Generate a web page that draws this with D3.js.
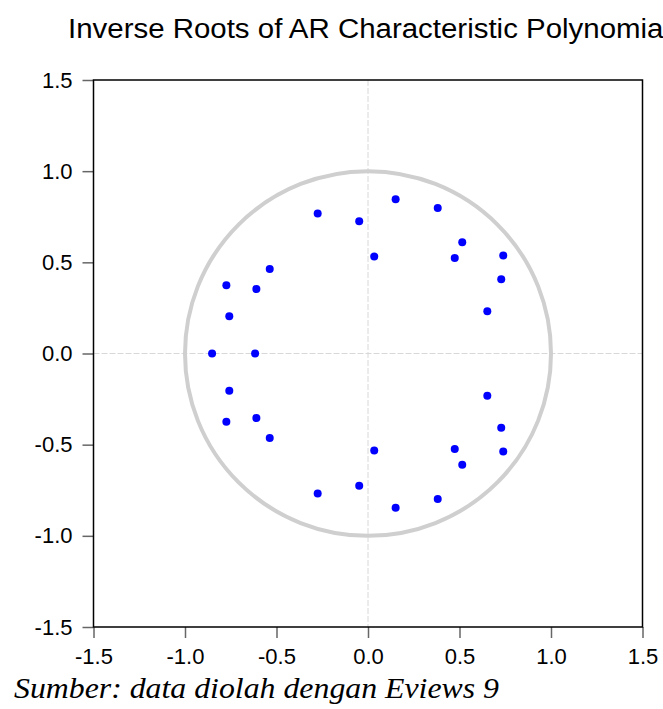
<!DOCTYPE html>
<html>
<head>
<meta charset="utf-8">
<script src="https://cdnjs.cloudflare.com/ajax/libs/d3/7.8.5/d3.min.js"></script>
<style>
  body { margin: 0; background: #fff; }
  svg { display: block; }
  .tick text { font-family: "Liberation Sans", Arial, sans-serif; font-size: 22px; fill: #000; }
  .title { font-family: "Liberation Sans", Arial, sans-serif; font-size: 27px; }
  .source { font-family: "Liberation Serif", "Times New Roman", serif; font-style: italic; font-size: 29px; }
</style>
</head>
<body>
<svg id="chart" width="663" height="709"></svg>
<script>
const rootRe = [0.151, 0.381, -0.275, -0.048, 0.515, 0.739, 0.474, 0.034, -0.537, -0.774, -0.610, 0.728, 0.652, -0.758,
                0.151, 0.381, -0.275, -0.048, 0.515, 0.739, 0.474, 0.034, -0.537, -0.774, -0.610, 0.728, 0.652, -0.758,
                -0.852, -0.617];
const rootIm = [0.846, 0.798, 0.768, 0.726, 0.610, 0.537, 0.524, 0.532, 0.464, 0.374, 0.354, 0.407, 0.232, 0.204,
                -0.846, -0.798, -0.768, -0.726, -0.610, -0.537, -0.524, -0.532, -0.464, -0.374, -0.354, -0.407, -0.232, -0.204,
                0, 0];
const tickVals = [-1.5, -1.0, -0.5, 0.0, 0.5, 1.0, 1.5];

const title = "Inverse Roots of AR Characteristic Polynomial";
const source = "Sumber: data diolah dengan Eviews 9";

const svg = d3.select("#chart");
const pLeft = 93.5, pRight = 642.5, pTop = 80, pBottom = 627;

const x = d3.scaleLinear().domain([-1.5, 1.5]).range([pLeft, pRight]);
const y = d3.scaleLinear().domain([-1.5, 1.5]).range([pBottom, pTop]);

svg.append("rect").attr("width", 663).attr("height", 709).attr("fill", "#fff");

// zero lines
svg.append("line")
  .attr("x1", x(0)).attr("x2", x(0)).attr("y1", pTop).attr("y2", pBottom)
  .attr("stroke", "#d8d8d8").attr("stroke-dasharray", "6,2");
svg.append("line")
  .attr("x1", pLeft).attr("x2", pRight).attr("y1", y(0)).attr("y2", y(0))
  .attr("stroke", "#d8d8d8").attr("stroke-dasharray", "6,2");

// unit circle
svg.append("ellipse")
  .attr("cx", x(0)).attr("cy", y(0))
  .attr("rx", x(1) - x(0)).attr("ry", y(0) - y(1))
  .attr("fill", "none").attr("stroke", "#cfcfcf").attr("stroke-width", 4);

// roots
svg.append("g").selectAll("circle")
  .data(d3.range(rootRe.length))
  .join("circle")
  .attr("cx", i => x(rootRe[i]))
  .attr("cy", i => y(rootIm[i]))
  .attr("r", 4)
  .attr("fill", "#0000ff");

// axes - plain hyphen for negatives, like eviews
const fmt = d => d3.format(".1f")(d).replace("\u2212", "-");
const ax = svg.append("g").attr("transform", `translate(0,${pBottom})`)
  .call(d3.axisBottom(x).tickValues(tickVals).tickFormat(fmt).tickSize(11).tickPadding(10));
const ay = svg.append("g").attr("transform", `translate(${pLeft},0)`)
  .call(d3.axisLeft(y).tickValues(tickVals).tickFormat(fmt).tickSize(11).tickPadding(10));
[ax, ay].forEach(g => {
  g.attr("font-family", null).attr("font-size", null);
  g.select(".domain").remove();
  g.selectAll(".tick line").attr("stroke", "#666").attr("stroke-width", 1.5);
});

// frame
svg.append("rect")
  .attr("x", pLeft).attr("y", pTop)
  .attr("width", pRight - pLeft).attr("height", pBottom - pTop)
  .attr("fill", "none").attr("stroke", "#000").attr("stroke-width", 1.5);

// title (cut at the right edge like the original)
svg.append("text")
  .attr("class", "title")
  .attr("x", 68).attr("y", 38)
  .attr("textLength", 602).attr("lengthAdjust", "spacingAndGlyphs")
  .text(title);

// source note
svg.append("text")
  .attr("class", "source")
  .attr("x", 14).attr("y", 698)
  .attr("textLength", 485).attr("lengthAdjust", "spacingAndGlyphs")
  .text(source);
</script>
</body>
</html>
